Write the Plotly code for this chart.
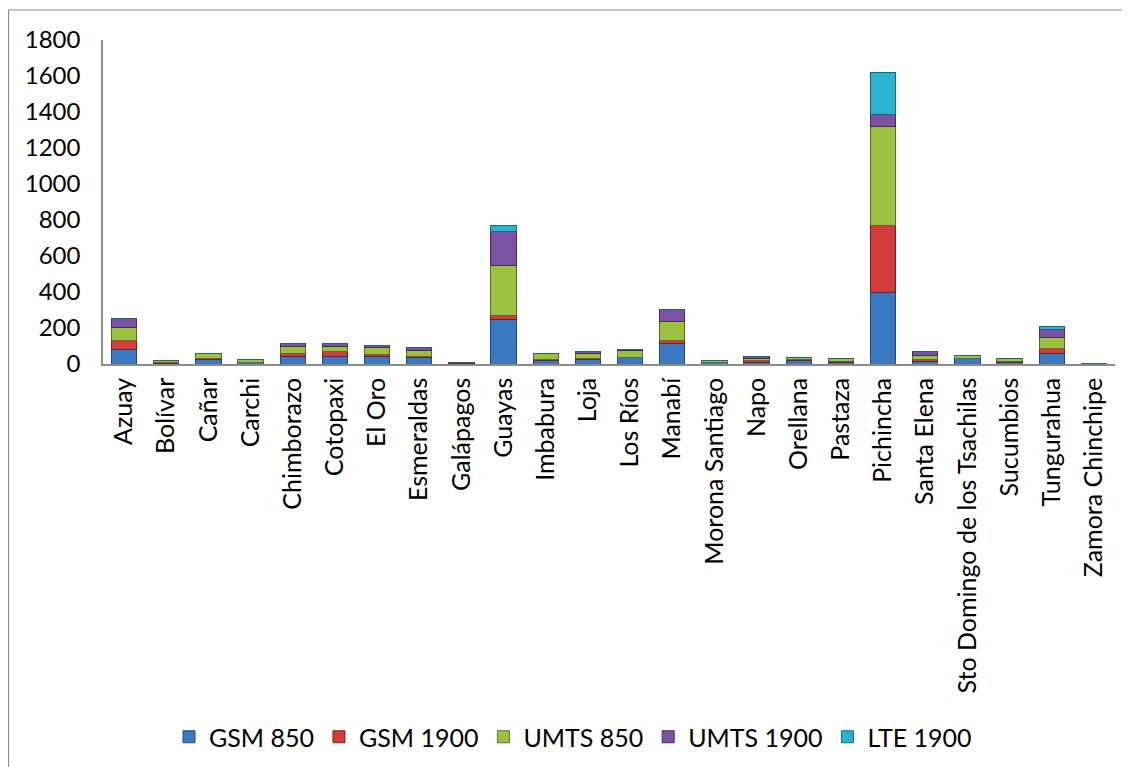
import plotly.graph_objects as go

provinces = ["Azuay", "Bolívar", "Cañar", "Carchi", "Chimborazo", "Cotopaxi", "El Oro",
             "Esmeraldas", "Galápagos", "Guayas", "Imbabura", "Loja", "Los Ríos", "Manabí",
             "Morona Santiago", "Napo", "Orellana", "Pastaza", "Pichincha", "Santa Elena",
             "Sto Domingo de los Tsachilas", "Sucumbios", "Tungurahua", "Zamora Chinchipe"]

gsm850 = [80, 5, 25, 8, 40, 40, 40, 37, 5, 248, 18, 25, 35, 115, 6, 10, 22, 7, 400, 15, 28, 8, 56, 4]
gsm1900 = [48, 2, 3, 2, 18, 28, 15, 7, 3, 20, 8, 6, 3, 15, 2, 8, 2, 6, 370, 8, 2, 5, 31, 0]
umts850 = [77, 13, 28, 15, 42, 28, 35, 30, 0, 282, 33, 28, 38, 105, 9, 14, 11, 17, 552, 23, 20, 17, 61, 0]
umts1900 = [47, 0, 3, 0, 15, 18, 14, 20, 0, 185, 2, 12, 2, 68, 0, 7, 0, 0, 65, 22, 0, 0, 43, 0]
lte1900 = [0, 0, 0, 0, 0, 0, 0, 0, 0, 37, 0, 0, 0, 0, 0, 0, 0, 0, 230, 0, 0, 0, 16, 0]

series = [
    ("GSM 850", gsm850, "#3b78c2", "#1f4a80"),
    ("GSM 1900", gsm1900, "#d23c3a", "#7a1d1c"),
    ("UMTS 850", umts850, "#9cc040", "#5a7020"),
    ("UMTS 1900", umts1900, "#7c52a6", "#45295f"),
    ("LTE 1900", lte1900, "#2bb3cf", "#17687a"),
]

W, H = 1130, 767
L, R, T, B = 95, 23, 32, 411
pw, ph = W - L - R, H - T - B

fig = go.Figure()
for name, vals, col, edge in series:
    fig.add_trace(go.Bar(x=provinces, y=vals, name=name,
                         marker=dict(color=col, line=dict(color=edge, width=1))))

fig.update_layout(
    barmode="stack",
    bargap=0.4,
    width=W, height=H,
    paper_bgcolor="white", plot_bgcolor="white",
    margin=dict(l=L, r=R, t=T, b=B),
    font=dict(family="Lato, Open Sans, sans-serif", size=24, color="black"),
    legend=dict(orientation="h", xref="container", yref="container",
                x=0.5, y=1 - 729 / H, xanchor="center", yanchor="middle",
                font=dict(size=25), itemwidth=30, traceorder="normal"),
    shapes=[dict(type="rect", xref="paper", yref="paper",
                 x0=-(L - 0.5) / pw, x1=1 + (R + 20) / pw,
                 y0=-(B + 20) / ph, y1=1 + (T - 2) / ph,
                 line=dict(color="#8c8c8c", width=1.2), fillcolor="rgba(0,0,0,0)")],
)
fig.update_xaxes(tickangle=-90, showline=True, linecolor="#8c8c8c", linewidth=1.5,
                 ticks="", tickfont=dict(size=25), ticklabelstandoff=2)
fig.update_yaxes(range=[0, 1800], dtick=200, showgrid=False, showline=True,
                 linecolor="#8c8c8c", linewidth=1.5, ticks="",
                 tickfont=dict(size=24), zeroline=False, ticklabelstandoff=16)

fig.write_html("out.html")
